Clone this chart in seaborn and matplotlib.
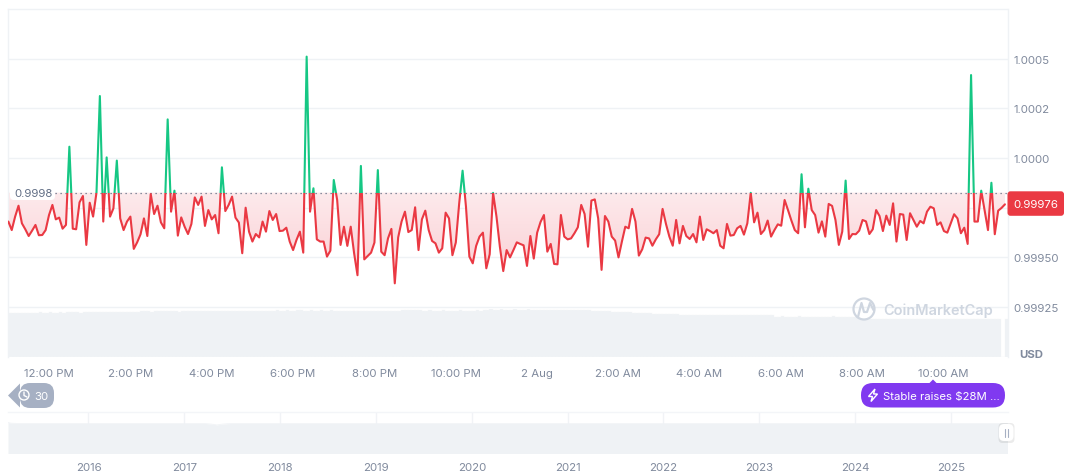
import numpy as np
import pandas as pd
import seaborn as sns
import matplotlib
matplotlib.use("Agg")
import matplotlib.pyplot as plt
import matplotlib.dates as mdates
import matplotlib.transforms as mtrans
from matplotlib.colors import LinearSegmentedColormap
from matplotlib.patches import FancyBboxPatch, Polygon, Circle, Rectangle, PathPatch
from matplotlib.lines import Line2D
from matplotlib.path import Path

# ---------- data (price deviation from $1, in millionths of a dollar) ----------
dev_part1 = [-321,-364,-296,-241,-330,-360,-394,-367,-338,-390,-389,-364,-288,-237,-310,-301,-357,-338,57,-357,
             -360,-224,-192,-439,-226,-296,-175,313,-321,3,-296,-254,-13,-305,-364,-321,-296,-459,-426,-385,
             -305,-394,-182,-283,-241,-325,-355,195,-271,-165,-392,-300,-347,-384,-333,-199,-237,-195,-343,-263,
             -310,-288,-380,-47,-268,-237,-195,-301,-326,-481,-251,-372,-422,-384,-401,-321,-372,-268,-313,-283,
             -369,-367,-352,-422,-465,-414,-372,-478,512,-271,-153,-411,-422,-422,-498,-468,-111,-212,-439,-347,-444]
dev_part2 = [-347,-481,-592,-40,-512,-495,-478,-427,-61,-473,-491,-406,-358,-633,-401,-321,-271,-374,-364,-249,
             -465,-310,-266,-364,-419,-431,-478,-456,-276,-305,-491,-427,-229,-64,-246,-498,-532,-444,-397,-377,
             -557,-486,-176,-296,-448,-571,-465,-502,-465,-426,-434,-441,-545,-394,-508,-377,-323,-288,-473,-434,
             -535,-537,-288,-397,-411,-406,-380,-350,-237,-283,-448,-215,-209,-305,-565,-293,-321,-397,-417,-502,
             -422,-347,-355,-257,-321,-493,-461,-402,-406,-443,-411,-385,-257,-333,-397,-443,-313,-431,-343,-394,-409]
dev_part3 = [-384,-426,-296,-414,-360,-369,-380,-364,-443,-456,-333,-392,-389,-355,-343,-387,-330,-176,-325,-276,
             -384,-364,-316,-397,-364,-335,-342,-212,-263,-316,-364,-380,-82,-350,-155,-263,-288,-377,-320,-397,
             -232,-242,-313,-439,-372,-114,-409,-384,-385,-367,-313,-320,-384,-360,-263,-293,-369,-291,-338,-229,
             -422,-283,-286,-414,-279,-313,-347,-318,-330,-271,-246,-254,-338,-325,-369,-377,-330,-284,-305,-380,
             -352,-434,419,-321,-321,-165,-263,-364,-125,-385,-266,-252,-234]
volume_bars = [44,44,44,44.5,44,44.5,44.5,44,44.5,45,44.5,44.5,45,44.5,44.5,45,44.5,45,45,45,
               45,44.5,45,45,45.5,45,45,45,45.5,45,45,45.5,45,45,45.5,45,45.5,45,45.5,46,
               46,46,45.5,46,46,46,46.5,46,46,46,45.5,46,46,46.5,46,46,46,46,46.5,46,
               46,46,46,46.5,46,46,46,46,46.5,46,46,46.5,46,46,46,46.5,46,46.5,46.5,47,
               46.5,46.5,47,46.5,46.5,47,47,46.5,46.5,47,46.5,46.5,47,46.5,46.5,47,46.5,46.5,46,46,
               46,46.5,46,46,46,46.5,46,46,46,46.5,46,46,46,46,46,46,47,47,47.5,47,
               47,47,46.5,46.5,47,46.5,46.5,46.5,47,46.5,46.5,46.5,46.5,47,46.5,46.5,46.5,46.5,47,46.5,
               47.5,47.5,48,47.5,47.5,48,47.5,47.5,47.5,48,47.5,47.5,47.5,48,47.5,47.5,47.5,47.5,47.5,47.5,
               47.5,47,47.5,47.5,47,47.5,47,47.5,47,47,47.5,47,46.5,46.5,46.5,46.5,46.5,46.5,45.5,45.5,
               45.5,45.5,45.5,45.5,44,44,44,44,44,44,43,43,43,43,43,43,43,43,42,42,
               42,42,42,42.5,42,42,42,42,42.5,42,42,42,42,42,42.5,42,42,42,42,42,
               42,42,42,42,42,42,40.5,40.5,41,40.5,40.5,40.5,40.5,41,40.5,40.5,40.5,40.5,40.5,40.5,
               40.5,40.5,40.5,41,40.5,40.5,40.5,40.5,40.5,40.5,40.5,38,38,38.5,38,38,38,38,38,38,
               38,38,38,38,38.5,38,38,38,38,38,38,38,38.5,38,38,38,38,38,38,38,
               38,38,38,38,38.5,38,38,38,38,38,38,38,38,0,38]
baseline_price = 0.999825
last_price_label = "0.99976"
baseline_label = "0.9998"
y_ticks = [1.0005, 1.00025, 1.0, 0.99975, 0.9995, 0.99925]
y_tick_labels = ["1.0005", "1.0002", "1.0000", "", "0.99950", "0.99925"]
x_tick_times = ["2025-08-01 12:00", "2025-08-01 14:00", "2025-08-01 16:00", "2025-08-01 18:00",
                "2025-08-01 20:00", "2025-08-01 22:00", "2025-08-02 00:00", "2025-08-02 02:00",
                "2025-08-02 04:00", "2025-08-02 06:00", "2025-08-02 08:00", "2025-08-02 10:00"]
x_tick_labels = ["12:00 PM", "2:00 PM", "4:00 PM", "6:00 PM", "8:00 PM", "10:00 PM", "2 Aug",
                 "2:00 AM", "4:00 AM", "6:00 AM", "8:00 AM", "10:00 AM"]
nav_years = [2015.16, 2015.19, 2015.25, 2015.6, 2016.0, 2016.5, 2017.0, 2017.2, 2017.28, 2017.34, 2017.4, 2017.5, 2018.0,
             2019.0, 2020.0, 2021.0, 2022.0, 2023.0, 2024.0, 2025.0, 2025.59]
nav_price = [1.03, 1.01, 1.0, 1.0, 1.0, 1.0, 1.0, 1.0, 0.98, 0.95, 0.98, 1.0, 1.0,
             1.0, 1.0, 1.0, 1.0, 1.0, 1.0, 1.0, 1.0]
year_ticks = list(range(2016, 2026))

# ---------- setup ----------
W, H = 1072, 477
RED, GREEN = "#ea3943", "#16c784"
GRID, GREY = "#eff2f5", "#808a9d"
sns.set_theme(style="white")
plt.rcParams["font.family"] = ["Inter", "DejaVu Sans"]
FS = 11.4 * 72 / 100

fig = plt.figure(figsize=(W / 100, H / 100), dpi=100, facecolor="white")
px = mtrans.Affine2D().scale(1 / W, -1 / H).translate(0, 1) + fig.transFigure


def axes_px(x0, y0, x1, y1, **kw):
    return fig.add_axes([x0 / W, 1 - y1 / H, (x1 - x0) / W, (y1 - y0) / H], **kw)


# ---------- volume bars ----------
axv = axes_px(8, 310, 1007.5, 358, zorder=0)
sns.barplot(x=np.arange(len(volume_bars)), y=volume_bars, color="#eff2f5", saturation=1,
            width=1.0, ax=axv, native_scale=True, edgecolor="#f4f6f8", linewidth=0.25)
axv.set_xlim(-0.5, 294.3)
axv.set_ylim(0, 48)
axv.axis("off")

# ---------- main price chart ----------
ax = axes_px(8, 10, 1007.5, 358, zorder=1)
ax.patch.set_visible(False)
dev = np.array(dev_part1 + dev_part2 + dev_part3, dtype=float)
price = 1 + dev * 1e-6
times = mdates.date2num(pd.date_range("2025-08-01 11:00", "2025-08-02 11:31", periods=len(price)))
per_px = (mdates.date2num(pd.Timestamp("2025-08-01 14:00")) - mdates.date2num(pd.Timestamp("2025-08-01 12:00"))) / 81.3
x_noon = mdates.date2num(pd.Timestamp("2025-08-01 12:00"))
xlim = (x_noon - 41 * per_px, x_noon + (1007.5 - 49) * per_px)
ylim = (1 - 199 * 5.0505e-6, 1 + 149 * 5.0505e-6)

# gradient fill below the baseline
coll = ax.fill_between(times, price, baseline_price, where=price < baseline_price,
                       interpolate=True, color="none", linewidth=0)
clip = Path.make_compound_path(*coll.get_paths())
cmap = LinearSegmentedColormap.from_list("pink", ["#fdeaec", "#fbd6da"])
im = ax.imshow(np.linspace(0, 1, 64).reshape(-1, 1), cmap=cmap, aspect="auto", origin="upper",
               extent=[xlim[0], xlim[1], 0.9995, baseline_price], zorder=1.2)
im.set_clip_path(PathPatch(clip, transform=ax.transData))
extra = ax.imshow([[1.0]], cmap=cmap, vmin=0, vmax=1, aspect="auto",
                  extent=[xlim[0], xlim[1], ylim[0], 0.9995], zorder=1.2)
extra.set_clip_path(PathPatch(clip, transform=ax.transData))

df = pd.DataFrame({"time": times, "price": price})
sns.lineplot(data=df, x="time", y="price", color=RED, linewidth=1.5, estimator=None, sort=False, ax=ax, zorder=3)
sns.lineplot(data=df, x="time", y="price", color=GREEN, linewidth=1.5, estimator=None, sort=False, ax=ax, zorder=3)
red_line, green_line = ax.lines[-2], ax.lines[-1]
red_line.set_clip_path(Rectangle((xlim[0], ylim[0]), xlim[1] - xlim[0], baseline_price - ylim[0], transform=ax.transData))
green_line.set_clip_path(Rectangle((xlim[0], baseline_price), xlim[1] - xlim[0], ylim[1] - baseline_price, transform=ax.transData))

ax.set_xlim(*xlim)
ax.set_ylim(*ylim)
ax.set_xlabel("")
ax.set_ylabel("")
ax.yaxis.tick_right()
ax.set_yticks(y_ticks)
ax.set_yticklabels(y_tick_labels, color=GREY, fontsize=FS)
ax.set_xticks(mdates.date2num(pd.to_datetime(x_tick_times)))
ax.set_xticklabels(x_tick_labels, color=GREY, fontsize=FS)
ax.tick_params(axis="both", length=0)
ax.tick_params(axis="y", pad=4.5)
ax.tick_params(axis="x", pad=8)
ax.grid(axis="y", color=GRID, linewidth=1)
ax.set_axisbelow(True)
for side in ("left", "top", "right"):
    ax.spines[side].set_visible(True)
    ax.spines[side].set_color(GRID)
    ax.spines[side].set_linewidth(1)
ax.spines["bottom"].set_visible(False)

# baseline and its label
ax.plot([x_noon + (55 - 49) * per_px, xlim[1]], [baseline_price] * 2, color="#616e85",
        linewidth=0.9, linestyle=(0, (1, 3)), zorder=2.5)
fig.add_artist(FancyBboxPatch((12, 188), 41, 11, boxstyle="round,pad=2,rounding_size=4", transform=px,
                              facecolor="white", edgecolor="none", zorder=5))
fig.text(14, 194.5, baseline_label, transform=px, color="#616e85", fontsize=FS, va="center", ha="left", zorder=6)

# last price tag
fig.add_artist(FancyBboxPatch((1009.5, 194.3), 52.5, 20.5, boxstyle="round,pad=2,rounding_size=3",
                              transform=px, facecolor=RED, edgecolor="none", zorder=5))
fig.text(1036, 205.5, last_price_label, transform=px, color="white", fontsize=FS, va="center", ha="center", zorder=6)
fig.text(1019, 355, "USD", transform=px, color=GREY, fontsize=FS, fontweight="bold", va="center", ha="left")

# watermark
WM = "#cfd6e0"
fig.add_artist(Circle((864, 310), 10.5, transform=px, facecolor="none", edgecolor=WM, linewidth=1.6, zorder=5))
fig.add_artist(Line2D([858, 861.5, 864, 867, 870, 873.5], [318, 304, 313, 313, 304, 311], transform=px,
                      color=WM, linewidth=1.6, zorder=5))
fig.text(883, 311, "CoinMarketCap", transform=px, color=WM, fontsize=14.5 * 72 / 100, fontweight="semibold",
         va="center", ha="left", zorder=5)

# "30" badge
BADGE = "#a6b0c3"
fig.add_artist(Polygon([(8, 396.5), (20, 384.5), (20, 408.5)], transform=px, facecolor=BADGE, edgecolor="none", zorder=5))
fig.add_artist(FancyBboxPatch((26, 390), 22, 13, boxstyle="round,pad=6,rounding_size=10", transform=px,
                              facecolor=BADGE, edgecolor="none", zorder=5))
fig.add_artist(Circle((24, 396), 5, transform=px, facecolor="none", edgecolor="white", linewidth=1, zorder=6))
fig.add_artist(Line2D([24, 24, 27], [393, 396.5, 398], transform=px, color="white", linewidth=1, zorder=6))
fig.text(41, 397, "30", transform=px, color="white", fontsize=FS, va="center", ha="center", zorder=6)

# news pill
PURPLE = "#8039f0"
fig.add_artist(FancyBboxPatch((871, 394), 124, 4.5, boxstyle="round,pad=10,rounding_size=12", transform=px,
                              facecolor=PURPLE, edgecolor="none", zorder=5))
fig.add_artist(Polygon([(929, 384.5), (933, 380.5), (937, 384.5)], transform=px, facecolor=PURPLE, edgecolor="none", zorder=5))
fig.add_artist(Polygon([(875, 390), (868.5, 397.5), (872.5, 397.5), (871, 402.5), (877.5, 395), (873.5, 395)],
                       transform=px, facecolor="none", edgecolor="white", linewidth=1, zorder=6))
fig.text(883, 397, "Stable raises $28M ...", transform=px, color="white", fontsize=FS, va="center", ha="left", zorder=6)

# ---------- navigator ----------
axn = axes_px(8, 413, 1007.5, 454.5, zorder=1)
nav_df = pd.DataFrame({"year": nav_years, "price": nav_price})
axn.fill_between(nav_years, nav_price, 0, color="#eff2f5", linewidth=0)
sns.lineplot(data=nav_df, x="year", y="price", color="#eff2f5", linewidth=0.5, estimator=None, ax=axn)
for yr in year_ticks:
    axn.axvline(yr, color="#f1f3f6", linewidth=1, zorder=0)
axn.set_xlim(2015.16, 2025.59)
axn.set_ylim(0, 1.38)
axn.set_xticks(year_ticks)
axn.set_xticklabels([str(y) for y in year_ticks], color=GREY, fontsize=FS)
axn.set_yticks([])
axn.set_xlabel("")
axn.set_ylabel("")
axn.tick_params(axis="x", length=0, pad=6)
for side in ("left", "right", "bottom"):
    axn.spines[side].set_visible(False)
axn.spines["top"].set_color("#f3f5f8")
axn.spines["top"].set_linewidth(1)

# navigator handle
fig.add_artist(FancyBboxPatch((999.5, 425), 14, 18, boxstyle="round,pad=1,rounding_size=4", transform=px,
                              facecolor="#000000", alpha=0.08, edgecolor="none", zorder=5))
fig.add_artist(FancyBboxPatch((1001, 427), 10.5, 13, boxstyle="round,pad=2,rounding_size=5", transform=px,
                              facecolor="white", edgecolor="none", zorder=6))
for hx in (1004.5, 1007.5):
    fig.add_artist(Line2D([hx, hx], [429.5, 437.5], transform=px, color="#a6b0c3", linewidth=0.8, zorder=7))

fig.savefig("out.png", dpi=100, facecolor="white")
